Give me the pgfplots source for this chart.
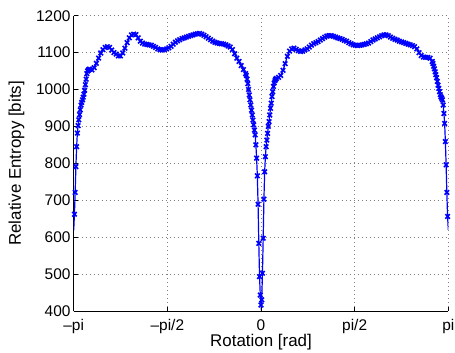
\documentclass[border=0pt]{standalone}
\usepackage{fontspec}
\setmainfont{Liberation Sans}
\usepackage{pgfplots}
\pgfplotsset{compat=1.18}

% relative entropy versus rotation angle (rad), sampled on a 2pi/512 grid
\begin{document}
\begin{tikzpicture}
\useasboundingbox (-73.7bp,-42.1bp) rectangle (381.3bp,310.9bp);
\begin{axis}[
  at={(0,0)}, anchor=south west,
  scale only axis,
  width=374.6bp, height=295.2bp,
  xmin=-3.14159, xmax=3.14159,
  ymin=400, ymax=1200,
  xtick={-3.14159,-1.5708,0,1.5708,3.14159},
  xticklabels={–pi,–pi/2,0,pi/2,pi},
  ytick={400,500,...,1200},
  scaled y ticks=false,
  /pgf/number format/assume math mode=true,
  /pgf/number format/1000 sep={},
  axis x line*=bottom, axis y line*=left,
  axis line style={black, line width=0.8bp},
  tick align=inside,
  major tick length=4bp,
  tick style={black, line width=0.6bp},
  grid=major,
  major grid style={black!50, line width=0.7bp, dash pattern=on 0.8bp off 3.2bp},
  tick label style={font=\fontsize{15.5}{18}\selectfont, inner sep=0pt},
  xticklabel style={anchor=base, yshift=-20bp},
  yticklabel style={anchor=east, xshift=-3bp},
  label style={font=\fontsize{17}{20}\selectfont, inner sep=0pt},
  xlabel={Rotation [rad]},
  ylabel={Relative Entropy [bits]},
  xlabel style={at={(axis description cs:0.5,0)}, anchor=base, yshift=-36bp},
  ylabel style={at={(axis description cs:-0.1407,0.5)}, anchor=base},
  clip mode=individual,
  every axis plot/.append style={color=blue, line width=1.2bp},
]
\addplot[blue, mark=x, mark options={scale=1.6, line width=1.6bp, solid}] table {
x y
-3.1416 618
-3.1293 662
-3.1170 721
-3.1048 791
-3.0925 845
-3.0802 882
-3.0680 902
-3.0557 918
-3.0434 932
-3.0311 945
-3.0189 958
-3.0066 965
-2.9943 972
-2.9821 979
-2.9698 987
-2.9575 998
-2.9452 1013
-2.9330 1028
-2.9207 1043
-2.9084 1050
-2.8962 1053
-2.8839 1055
-2.8716 1055
-2.8348 1053
-2.7980 1059
-2.7612 1071
-2.7244 1085
-2.6875 1099
-2.6507 1108
-2.6139 1114
-2.5771 1116
-2.5403 1114
-2.5035 1107
-2.4666 1100
-2.4298 1096
-2.3930 1091
-2.3562 1091
-2.3194 1099
-2.2826 1112
-2.2457 1127
-2.2089 1140
-2.1721 1148
-2.1353 1150
-2.0985 1149
-2.0617 1140
-2.0249 1131
-1.9880 1126
-1.9512 1123
-1.9144 1122
-1.8776 1121
-1.8408 1120
-1.8040 1117
-1.7671 1114
-1.7303 1110
-1.6935 1108
-1.6567 1107
-1.6199 1108
-1.5831 1110
-1.5463 1113
-1.5094 1117
-1.4726 1123
-1.4358 1128
-1.3990 1132
-1.3622 1135
-1.3254 1138
-1.2885 1140
-1.2517 1142
-1.2149 1144
-1.1781 1146
-1.1413 1148
-1.1045 1150
-1.0677 1151
-1.0308 1152
-0.9940 1150
-0.9572 1147
-0.9204 1143
-0.8836 1139
-0.8468 1135
-0.8099 1131
-0.7731 1128
-0.7363 1126
-0.6995 1125
-0.6627 1124
-0.6259 1123
-0.5890 1121
-0.5522 1118
-0.5154 1115
-0.4786 1108
-0.4418 1097
-0.4050 1085
-0.3682 1076
-0.3313 1065
-0.2945 1054
-0.2577 1043
-0.2454 1038
-0.2332 1028
-0.2209 1016
-0.2086 1000
-0.1963 985
-0.1841 972
-0.1718 958
-0.1595 944
-0.1473 931
-0.1350 917
-0.1227 904
-0.1104 890
-0.0982 877
-0.0859 850
-0.0736 814
-0.0614 766
-0.0491 689
-0.0368 583
-0.0245 493
-0.0123 443
0.0000 416
0.0123 430
0.0245 502
0.0368 597
0.0491 703
0.0614 777
0.0736 818
0.0859 845
0.0982 863
0.1104 881
0.1227 900
0.1350 913
0.1473 931
0.1595 949
0.1718 963
0.1841 981
0.1963 994
0.2086 1008
0.2209 1018
0.2332 1024
0.2454 1028
0.2577 1030
0.2945 1033
0.3313 1038
0.3682 1052
0.4050 1070
0.4418 1090
0.4786 1104
0.5154 1110
0.5522 1112
0.5890 1109
0.6259 1105
0.6627 1103
0.6995 1104
0.7363 1107
0.7731 1110
0.8099 1115
0.8468 1120
0.8836 1124
0.9204 1127
0.9572 1130
0.9940 1134
1.0308 1138
1.0677 1142
1.1045 1145
1.1413 1146
1.1781 1146
1.2149 1144
1.2517 1142
1.2885 1140
1.3254 1138
1.3622 1136
1.3990 1133
1.4358 1131
1.4726 1127
1.5094 1124
1.5463 1121
1.5831 1120
1.6199 1119
1.6567 1120
1.6935 1121
1.7303 1122
1.7671 1124
1.8040 1126
1.8408 1130
1.8776 1134
1.9144 1137
1.9512 1140
1.9880 1143
2.0249 1146
2.0617 1148
2.0985 1148
2.1353 1146
2.1721 1142
2.2089 1139
2.2457 1136
2.2826 1134
2.3194 1131
2.3562 1129
2.3930 1127
2.4298 1125
2.4666 1123
2.5035 1121
2.5403 1119
2.5771 1116
2.6139 1110
2.6507 1100
2.6875 1092
2.7244 1088
2.7612 1087
2.7980 1087
2.8348 1085
2.8716 1076
2.8839 1070
2.8962 1063
2.9084 1056
2.9207 1048
2.9330 1040
2.9452 1032
2.9575 1022
2.9698 1012
2.9821 1003
2.9943 994
3.0066 986
3.0189 980
3.0311 976
3.0434 972
3.0557 958
3.0680 935
3.0802 908
3.0925 859
3.1048 796
3.1170 721
3.1293 656
3.1416 620
};
\end{axis}
\end{tikzpicture}
\end{document}
